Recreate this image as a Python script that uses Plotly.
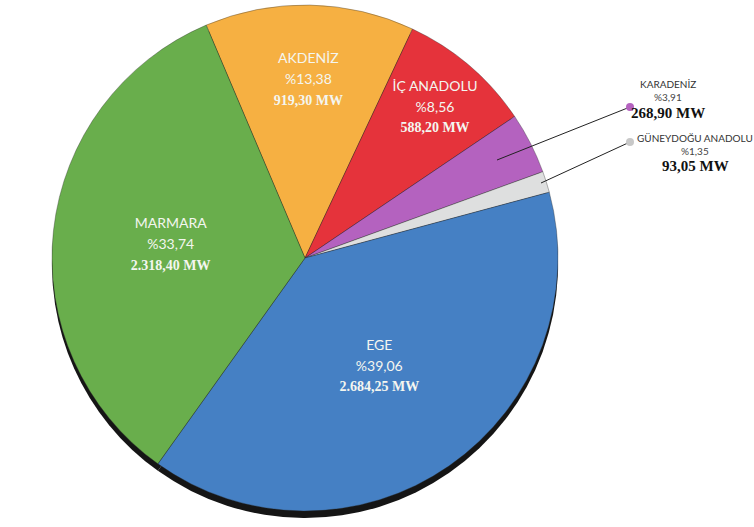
import numpy as np
import plotly.graph_objects as go

# Installed capacity by region (MW)
regions = ["AKDENİZ", "İÇ ANADOLU", "KARADENİZ", "GÜNEYDOĞU ANADOLU", "EGE", "MARMARA"]
capacity_mw = [919.30, 588.20, 268.90, 93.05, 2684.25, 2318.40]
colors = ["#F6B042", "#E5333B", "#B462BF", "#DEDFDF", "#4580C4", "#69AE4C"]
text_pos = ["inside", "inside", "none", "none", "inside", "inside"]

values = np.array(capacity_mw)
shares = np.round(values / values.sum() * 100, 2)


def tr_num(v):
    s = f"{v:,.2f}"
    return s.replace(",", "X").replace(".", ",").replace("X", ".")


W, H = 754, 527
cx, cy, r = 305, 258, 253
dom_x = [(cx - r) / W, (cx + r) / W]
dom_y = [(H - cy - r) / H, (H - cy + r) / H]
shift = 7 / H

fig = go.Figure()

# dark rim under the pie for a raised look
fig.add_trace(go.Pie(
    labels=regions, values=values, sort=False, direction="clockwise", rotation=-23,
    marker=dict(colors=["#151515"] * len(regions), line=dict(width=0)),
    textinfo="none", hoverinfo="skip", showlegend=False,
    domain=dict(x=dom_x, y=[dom_y[0] - shift, dom_y[1] - shift]),
))

name_span = "<span style='font-size:14px'>%{label}</span>"
pct_span = "<span style='font-size:14px'>%%{customdata:.2f}</span>"
mw_span = "<span style='font-family:Liberation Serif;font-size:14px'><b>%{value:,.2f} MW</b></span>"
fig.add_trace(go.Pie(
    labels=regions, values=values, customdata=shares, sort=False,
    direction="clockwise", rotation=-23,
    marker=dict(colors=colors, line=dict(color="rgba(40,40,40,0.35)", width=1)),
    textposition=text_pos, insidetextorientation="horizontal",
    texttemplate=name_span + "<br>" + pct_span + "<br>" + mw_span,
    textfont=dict(family="Lato", size=16, color="#F4F6F0"),
    hoverinfo="label+value+percent", showlegend=False,
    domain=dict(x=dom_x, y=dom_y),
))

# pixel-space helper axes for the outside labels
fig.update_layout(
    xaxis=dict(range=[0, W], visible=False, domain=[0, 1], fixedrange=True),
    yaxis=dict(range=[H, 0], visible=False, domain=[0, 1], fixedrange=True),
)

outside = [
    # index, line start, dot, label centre x, line y positions
    (2, (497, 160), (630, 107), 668, (84, 97, 113)),
    (3, (541, 183), (630, 142), 695, (138, 151, 166)),
]
for idx, start, dot, lx, ys in outside:
    fig.add_shape(type="line", xref="x", yref="y", x0=start[0], y0=start[1],
                  x1=dot[0], y1=dot[1], line=dict(color="#222222", width=1), layer="above")
    fig.add_shape(type="circle", xref="x", yref="y", x0=dot[0] - 4, y0=dot[1] - 4,
                  x1=dot[0] + 4, y1=dot[1] + 4,
                  fillcolor=colors[idx] if idx != 3 else "#C8C8C8",
                  line=dict(width=0), layer="above")
    lines = [
        (regions[idx], dict(family="Lato", size=10, color="#333333")),
        ("%" + tr_num(shares[idx]), dict(family="Lato", size=10, color="#444444")),
        (f"<b>{tr_num(values[idx])} MW</b>", dict(family="Liberation Serif", size=15, color="#111111")),
    ]
    for (txt, fnt), y in zip(lines, ys):
        fig.add_annotation(x=lx, y=y, xref="x", yref="y", showarrow=False,
                           text=txt, font=fnt, xanchor="center", yanchor="middle",
                           borderpad=0)

fig.update_layout(
    width=W, height=H, margin=dict(l=0, r=0, t=0, b=0),
    paper_bgcolor="white", plot_bgcolor="white",
    separators=",.",
)

fig.write_html("out.html")
